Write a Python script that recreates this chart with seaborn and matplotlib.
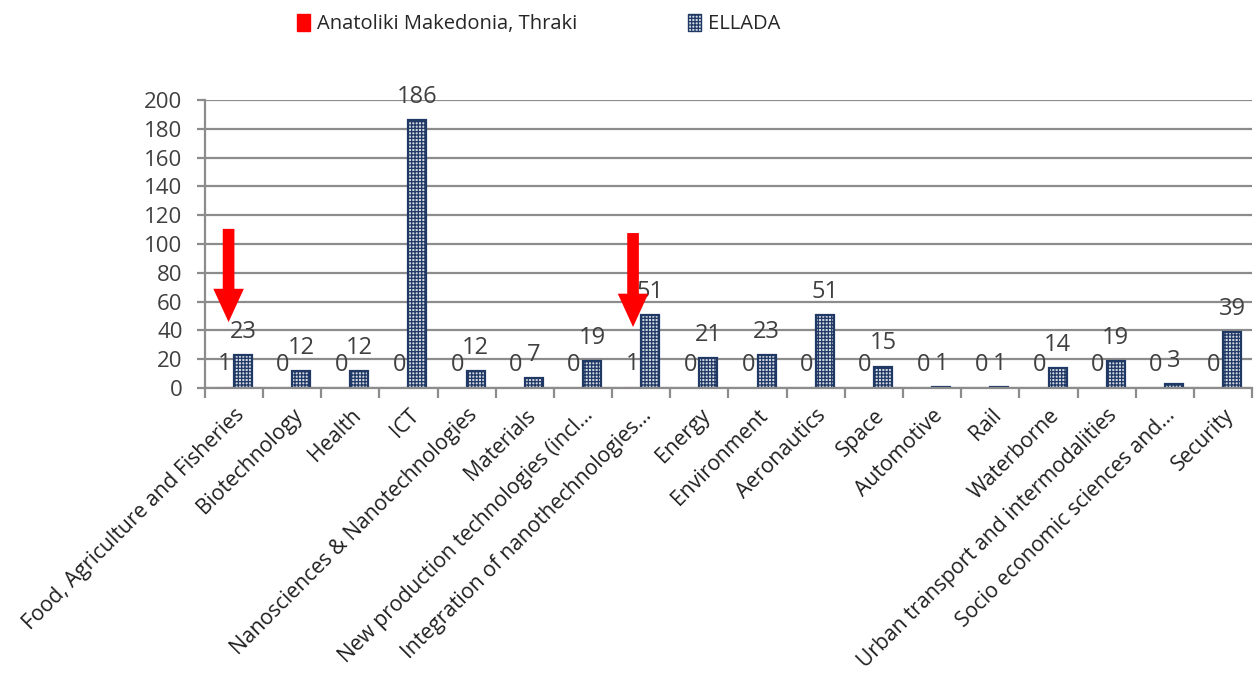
import matplotlib
matplotlib.use("Agg")
import matplotlib.pyplot as plt
import seaborn as sns
import pandas as pd
import numpy as np
from matplotlib.patches import Patch

categories = [
    "Food, Agriculture and Fisheries",
    "Biotechnology",
    "Health",
    "ICT",
    "Nanosciences & Nanotechnologies",
    "Materials",
    "New production technologies (incl...",
    "Integration of nanothechnologies...",
    "Energy",
    "Environment",
    "Aeronautics",
    "Space",
    "Automotive",
    "Rail",
    "Waterborne",
    "Urban transport and intermodalities",
    "Socio economic sciences and...",
    "Security",
]
region_name = "Anatoliki Makedonia, Thraki"
country_name = "ELLADA"
region_values = [1, 0, 0, 0, 0, 0, 0, 1, 0, 0, 0, 0, 0, 0, 0, 0, 0, 0]
country_values = [23, 12, 12, 186, 12, 7, 19, 51, 21, 23, 51, 15, 1, 1, 14, 19, 3, 39]
y_ticks = list(range(0, 201, 20))

df = pd.DataFrame({
    "category": categories * 2,
    "series": [region_name] * len(categories) + [country_name] * len(categories),
    "value": region_values + country_values,
})

sns.set_theme(style="white")
plt.rcParams["font.family"] = ["Open Sans", "DejaVu Sans"]
plt.rcParams["hatch.linewidth"] = 0.9

red = "#ff0000"
navy = "#1f3864"
fill = "#d2d8e2"
grid_gray = "#8c8c8c"
text_gray = "#404040"
pattern = "+++++"

fig = plt.figure(figsize=(12.56, 6.75), dpi=100)
ax = fig.add_axes([0.163, 0.425, 0.834, 0.427])

sns.barplot(
    data=df, x="category", y="value", hue="series",
    order=categories, hue_order=[region_name, country_name],
    palette={region_name: red, country_name: fill},
    width=0.62, gap=0, ax=ax, legend=False, errorbar=None, saturation=1,
)

region_bars, country_bars = ax.containers[0], ax.containers[1]
for p in region_bars:
    p.set_edgecolor("#ff8080")
    p.set_linewidth(0.8)
for p in country_bars:
    p.set_edgecolor(navy)
    p.set_linewidth(1.6)
    p.set_hatch(pattern)

label_font = dict(fontsize=17, color=text_gray)
ax.bar_label(region_bars, labels=[str(v) for v in region_values], padding=8, **label_font)
ax.bar_label(country_bars, labels=[str(v) for v in country_values], padding=8, **label_font)

ax.set_ylim(0, 200)
ax.set_xlim(-0.5, len(categories) - 0.5)
ax.set_yticks(y_ticks)
ax.set_yticklabels([str(v) for v in y_ticks], fontsize=16, color=text_gray)
ax.yaxis.grid(True, color=grid_gray, linewidth=1.6)
ax.set_axisbelow(True)
ax.tick_params(axis="y", length=6, width=1.6, color=grid_gray, pad=10, left=True)

ax.set_xticks(range(len(categories)))
ax.set_xticklabels(categories, rotation=45, ha="right", rotation_mode="anchor",
                   fontsize=15.2, color="#202020")
ax.set_xticks(np.arange(-0.5, len(categories), 1.0), minor=True)
ax.tick_params(axis="x", which="major", length=0, pad=12)
ax.tick_params(axis="x", which="minor", length=7, width=1.6, color=grid_gray, bottom=True)
ax.set_xlabel("")
ax.set_ylabel("")

for side in ["top", "right"]:
    ax.spines[side].set_visible(False)
for side in ["left", "bottom"]:
    ax.spines[side].set_color(grid_gray)
    ax.spines[side].set_linewidth(1.6)

arrow_style = dict(arrowstyle="simple,head_length=1.2,head_width=1.1,tail_width=0.42",
                   color=red, mutation_scale=20, shrinkA=0, shrinkB=0, lw=0)
ax.annotate("", xy=(-0.09, 45.8), xytext=(-0.09, 110.5), arrowprops=arrow_style)
ax.annotate("", xy=(6.86, 42.4), xytext=(6.86, 107.6), arrowprops=arrow_style)

handles = [
    Patch(facecolor=red, edgecolor=red, label=region_name),
    Patch(facecolor=fill, edgecolor=navy, hatch=pattern, label=country_name),
]
fig.legend(handles=handles, loc="center", bbox_to_anchor=(0.429, 0.964), ncol=2,
           frameon=False, fontsize=14.5, handlelength=0.65, handleheight=0.9,
           handletextpad=0.36, columnspacing=5.5)

fig.savefig("out.png", dpi=100)
